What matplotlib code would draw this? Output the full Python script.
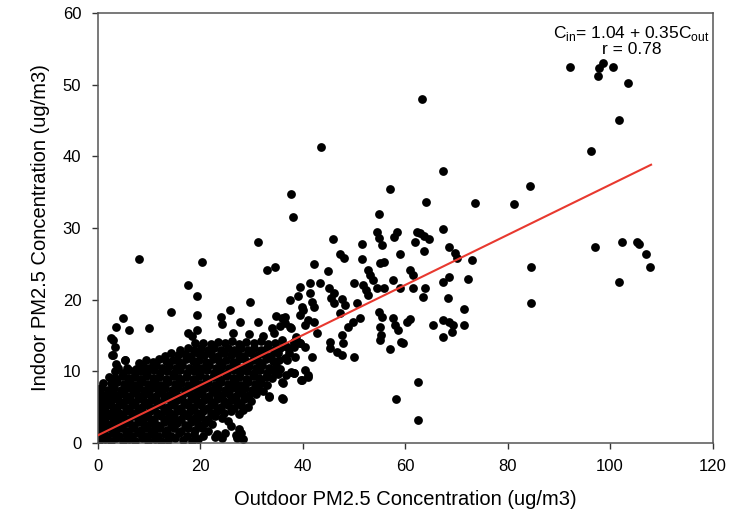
import matplotlib
matplotlib.use("Agg")
import matplotlib.pyplot as plt
import numpy as np

plt.rcParams['font.family'] = ['Liberation Sans', 'DejaVu Sans']
plt.rcParams['mathtext.fontset'] = 'custom'
plt.rcParams['mathtext.rm'] = 'Liberation Sans'

# ---- data (outdoor, indoor) pairs ----
# dense low-concentration cluster
blob = [
    (0.2,0.3),(1.3,0.5),(2.5,0.2),(3.6,0.6),(4.8,0.3),(6.0,0.5),(7.3,0.2),(8.5,0.6),(9.8,0.3),(11.1,0.5),
    (12.3,0.2),(13.6,0.4),(15.0,0.6),(16.7,0.4),(18.3,0.3),(19.6,0.5),(22.8,0.8),(24.2,0.6),(27.2,0.7),(28.3,0.5),
    (0.4,1.2),(1.7,1.0),(3.0,1.3),(4.2,1.0),(5.5,1.2),(6.7,0.9),(7.9,1.3),(9.1,1.0),(10.4,1.2),(11.7,0.9),
    (13.0,1.2),(14.3,1.0),(15.8,1.3),(17.4,1.0),(18.8,1.2),(20.5,1.0),(23.3,1.2),(24.8,1.3),(27.0,1.1),(28.0,1.3),
    (0.2,2.0),(1.2,1.8),(2.4,2.1),(3.5,1.8),(4.7,2.0),(5.9,1.7),(7.1,2.1),(8.4,1.8),(9.6,2.0),(10.9,1.8),
    (12.2,2.1),(13.5,1.8),(14.9,2.0),(16.2,1.7),(17.6,2.1),(19.0,1.8),(20.3,2.0),(21.4,1.7),(27.6,1.9),
    (0.5,2.8),(1.8,2.6),(3.0,2.9),(4.2,2.6),(5.4,2.8),(6.6,2.5),(7.8,2.9),(9.0,2.6),(10.3,2.8),(11.6,2.5),
    (12.9,2.9),(14.2,2.6),(15.5,2.8),(16.9,2.5),(18.2,2.9),(19.6,2.6),(20.9,2.8),(22.3,2.6),(26.0,2.4),
    (0.2,3.6),(1.3,3.4),(2.5,3.7),(3.7,3.4),(4.9,3.6),(6.1,3.3),(7.3,3.7),(8.5,3.4),(9.7,3.6),(11.0,3.3),
    (12.3,3.7),(13.6,3.4),(14.9,3.6),(16.2,3.3),(17.5,3.7),(18.9,3.4),(20.2,3.6),(21.5,3.3),(22.8,3.7),(24.3,3.4),(25.3,3.1),
    (0.5,4.4),(1.8,4.2),(3.0,4.5),(4.2,4.2),(5.4,4.4),(6.6,4.1),(7.8,4.5),(9.0,4.2),(10.2,4.4),(11.5,4.1),
    (12.8,4.5),(14.1,4.2),(15.4,4.4),(16.7,4.1),(18.0,4.5),(19.3,4.2),(20.6,4.4),(22.0,4.1),(23.3,4.5),(24.6,4.2),
    (26.0,4.4),(27.5,4.0),(28.4,4.6),
    (0.2,5.2),(1.3,5.0),(2.5,5.3),(3.7,5.0),(4.9,5.2),(6.1,4.9),(7.3,5.3),(8.5,5.0),(9.7,5.2),(11.0,4.9),
    (12.3,5.3),(13.6,5.0),(14.9,5.2),(16.2,4.9),(17.5,5.3),(18.8,5.0),(20.1,5.2),(21.4,4.9),(22.7,5.3),(24.0,5.0),
    (25.3,5.2),(26.6,4.9),(27.9,5.3),(29.2,5.0),
    (0.6,6.0),(1.8,5.8),(3.0,6.1),(4.2,5.8),(5.4,6.0),(6.6,5.7),(7.8,6.1),(9.0,5.8),(10.3,6.0),(11.6,5.7),
    (12.9,6.1),(14.2,5.8),(15.5,6.0),(16.8,5.7),(18.1,6.1),(19.4,5.8),(20.7,6.0),(22.0,5.7),(23.3,6.1),(24.6,5.8),
    (25.9,6.0),(27.2,5.7),(28.5,6.1),(29.8,5.8),
    (0.4,6.8),(1.5,6.6),(2.7,6.9),(3.9,6.6),(5.1,6.8),(6.3,6.5),(7.5,6.9),(8.7,6.6),(10.0,6.8),(11.3,6.5),
    (12.6,6.9),(13.9,6.6),(15.2,6.8),(16.5,6.5),(17.8,6.9),(19.1,6.6),(20.4,6.8),(21.7,6.5),(23.0,6.9),(24.3,6.6),
    (25.6,6.8),(26.9,6.5),(28.2,6.9),(29.5,6.6),(30.8,6.8),(33.4,6.4),(36.0,6.3),
    (0.6,7.6),(2.0,7.4),(3.2,7.7),(4.4,7.4),(5.6,7.6),(6.8,7.3),(8.0,7.7),(9.2,7.4),(10.5,7.6),(11.8,7.3),
    (13.1,7.7),(14.4,7.4),(15.7,7.6),(17.0,7.3),(18.3,7.7),(19.6,7.4),(20.9,7.6),(22.2,7.3),(23.5,7.7),(24.8,7.4),
    (26.1,7.6),(27.4,7.3),(28.7,7.7),(30.0,7.4),(31.3,7.6),(32.3,7.2),
    (1.0,8.4),(2.6,8.3),(3.8,8.5),(5.0,8.2),(6.2,8.4),(7.4,8.1),(8.6,8.5),(9.8,8.2),(11.1,8.4),(12.4,8.1),
    (13.7,8.5),(15.0,8.2),(16.3,8.4),(17.6,8.1),(18.9,8.5),(20.2,8.2),(21.5,8.4),(22.8,8.1),(24.1,8.5),(25.4,8.2),
    (26.7,8.4),(28.0,8.1),(29.3,8.5),(30.6,8.2),(31.9,8.4),(33.0,8.0),(36.0,8.5),
    (2.2,9.2),(3.4,9.0),(4.6,9.3),(5.8,9.0),(7.0,9.2),(8.2,8.9),(9.4,9.3),(10.7,9.0),(12.0,9.2),(13.3,8.9),
    (14.6,9.3),(15.9,9.0),(17.2,9.2),(18.5,8.9),(19.8,9.3),(21.1,9.0),(22.4,9.2),(23.7,8.9),(25.0,9.3),(26.3,9.0),
    (27.6,9.2),(28.9,8.9),(30.2,9.3),(31.5,9.0),(32.8,9.2),(34.0,9.0),(36.8,9.4),(39.6,8.8),(41.0,9.2),
    (3.4,10.0),(4.8,9.8),(6.0,10.1),(7.2,9.8),(8.4,10.0),(9.6,9.7),(10.9,10.1),(12.2,9.8),(13.5,10.0),(14.8,9.7),
    (16.1,10.1),(17.4,9.8),(18.7,10.0),(20.0,9.7),(21.3,10.1),(22.6,9.8),(23.9,10.0),(25.2,9.7),(26.5,10.1),(27.8,9.8),
    (29.1,10.0),(30.4,9.7),(31.7,10.1),(33.0,9.8),(34.3,10.0),(35.2,9.6),(37.7,9.9),(38.2,9.8),
    (4.0,10.5),(5.6,10.4),(7.5,10.3),(8.8,10.7),(10.0,10.5),(11.3,10.8),(12.6,10.5),(13.9,10.7),(15.2,10.4),(16.5,10.8),
    (17.8,10.5),(19.1,10.7),(20.4,10.4),(21.7,10.8),(23.0,10.5),(24.3,10.7),(25.6,10.4),(26.9,10.8),(28.2,10.5),(29.5,10.7),
    (30.8,10.4),(32.1,10.8),(33.4,10.5),(34.7,10.7),(35.6,10.3),(40.5,10.1),(41.1,9.4),(39.8,8.7),
    (3.6,11.0),(5.3,11.6),(8.0,11.2),(9.4,11.6),(10.7,11.3),(12.0,11.7),(13.3,11.4),(14.6,11.6),(15.9,11.3),(17.2,11.7),
    (18.5,11.4),(19.8,11.6),(21.1,11.3),(22.4,11.7),(23.7,11.4),(25.0,11.6),(26.3,11.3),(27.6,11.7),(28.9,11.4),(30.2,11.6),
    (31.5,11.3),(32.8,11.7),(34.1,11.4),(35.4,11.6),(36.6,11.8),(36.9,11.5),(38.5,12.0),(41.8,12.0),
    (2.9,12.3),(13.0,12.1),(14.3,12.5),(15.6,12.2),(16.9,12.4),(18.2,12.1),(19.5,12.5),(20.8,12.2),(22.1,12.4),(23.4,12.1),
    (24.7,12.5),(26.0,12.2),(27.3,12.4),(28.6,12.1),(29.9,12.5),(31.2,12.2),(32.5,12.4),(33.8,12.1),(35.1,12.5),(37.3,12.5),
    (3.3,13.4),(16.0,13.0),(17.5,13.3),(18.8,13.0),(20.1,13.2),(21.4,12.9),(22.7,13.3),(24.0,13.0),(25.3,13.2),(26.6,12.9),
    (27.9,13.3),(29.2,13.0),(30.5,13.2),(31.8,12.9),(33.1,13.3),(34.4,13.0),(35.6,13.2),(36.9,13.4),(38.2,13.4),
    (2.9,14.4),(19.0,13.9),(20.5,14.0),(22.0,13.8),(23.5,14.1),(24.8,13.9),(26.2,14.2),(27.6,13.8),(29.0,14.1),(30.4,13.9),
    (31.8,14.2),(33.2,13.8),(34.6,14.0),(36.0,14.3),(38.2,14.1),(39.5,13.9),(40.5,13.4),(32.2,14.9),
]

# scattered low / mid points
scatter_low = [
    (0.6,7.6),(2.6,14.6),(2.8,12.2),(3.5,16.1),(4.9,17.4),(6.1,15.8),(9.9,16.0),(5.3,11.6),
    (8.1,25.7),(14.2,18.3),(17.6,22.1),(19.3,20.5),(19.4,17.9),(19.3,15.7),(17.5,15.3),(18.4,14.9),
    (20.4,25.2),(24.1,17.5),(24.3,16.6),(25.7,18.6),(26.3,15.3),(27.8,16.8),(29.6,19.7),(29.5,15.2),
    (31.2,16.9),(34.7,17.7),(36.0,17.4),(34.0,16.0),(34.4,15.3),(35.6,16.3),(36.6,16.7),(37.7,16.0),
    (38.7,14.8),(31.2,28.1),(33.1,24.2),(34.6,24.6),(33.3,6.5),(36.2,6.1),
]

# mid-range cluster (40-75)
scatter_mid = [
    (37.5,20.0),(39.1,20.5),(39.5,21.7),(41.4,22.3),(43.4,22.3),(41.4,20.9),(41.8,19.7),(39.8,19.0),
    (40.1,18.6),(42.1,19.0),(39.5,17.9),(42.1,16.9),(42.7,15.3),(40.5,16.5),(41.1,17.2),(37.5,16.2),
    (36.5,17.6),(39.5,13.9),(38.2,14.1),(36.9,13.4),(36.2,8.4),(38.2,9.8),
    (42.1,25.0),(45.0,24.0),(45.8,28.4),(47.3,26.3),(48.1,25.8),(45.2,21.6),(46.0,20.9),(45.5,20.2),
    (47.6,20.1),(48.3,19.3),(47.3,18.1),(46.0,19.5),(48.9,16.2),(47.6,15.0),(47.8,13.9),(45.3,14.1),
    (45.3,13.3),(46.6,12.7),(47.6,12.2),(50.0,12.0),(49.8,16.9),(51.2,17.4),(50.6,19.5),
    (50.0,22.3),(51.8,22.0),(52.4,21.3),(52.8,20.6),(51.5,27.7),(51.5,25.6),(52.8,24.2),(53.2,23.4),
    (53.7,22.7),(54.5,29.5),(54.8,28.6),(55.4,27.6),(55.1,25.1),(55.8,25.2),(54.5,21.6),(55.8,21.6),
    (54.8,18.2),(55.4,17.6),(55.1,16.2),(55.2,15.0),(55.1,14.3),(57.1,13.1),(57.7,17.4),(58.0,16.5),
    (58.5,15.7),(59.2,14.1),(59.5,13.9),(60.3,16.9),(61.0,17.3),(57.7,22.8),(59.0,21.6),(61.6,21.6),
    (58.4,29.5),(57.9,28.8),(58.9,26.3),(62.0,28.0),(62.3,29.5),(61.0,24.2),(61.6,23.4),
    (62.9,29.3),(63.6,28.9),(64.6,28.4),(67.3,29.9),(63.7,26.8),(68.5,27.3),(69.8,26.5),(70.1,25.8),
    (68.5,23.2),(67.4,22.5),(72.2,22.9),(63.9,21.6),(63.5,20.4),(68.3,20.2),(71.4,18.7),(71.4,16.5),
    (65.4,16.5),(67.4,17.2),(68.5,16.8),(69.3,16.5),(69.1,15.5),(67.4,14.8),(73.0,25.5),
    (54.8,32.0),(57.0,35.5),(64.0,33.6),(73.7,33.5),(67.4,37.9),(37.6,34.8),(38.1,31.6),(43.5,41.3),
    (63.2,48.0),(62.4,8.5),(58.1,6.1),(62.4,3.2),
]

# high-concentration points
scatter_high = [
    (81.3,33.3),(84.4,35.8),(84.6,24.5),(84.6,19.5),(92.1,52.5),(97.7,51.2),(97.9,52.3),(98.7,53.1),
    (100.6,52.5),(103.4,50.3),(101.7,45.1),(96.3,40.8),(97.0,27.3),(102.3,28.0),(105.3,28.0),(105.7,27.8),
    (107.1,26.4),(107.7,24.6),(101.8,22.4),
]

intercept = 1.04
slope = 0.35
fit_range = [0.0, 108.0]

x_ticks = [0, 20, 40, 60, 80, 100, 120]
y_ticks = [0, 10, 20, 30, 40, 50, 60]

# ---- figure ----
pts = np.array(blob + scatter_low + scatter_mid + scatter_high)

fig = plt.figure(figsize=(7.49, 5.17), dpi=100)
ax = fig.add_axes([0.1308, 0.1437, 0.8205, 0.8306])

ax.scatter(pts[:, 0], pts[:, 1], s=40, c='black', linewidths=0, zorder=2)

fx = np.array(fit_range)
ax.plot(fx, intercept + slope * fx, color='#e8392f', lw=1.5, zorder=3)

ax.set_xlim(0, 120)
ax.set_ylim(0, 60)
ax.set_xticks(x_ticks)
ax.set_yticks(y_ticks)
ax.tick_params(axis='both', direction='out', length=4, width=1, labelsize=12,
               colors='#333333', labelcolor='black', pad=8)
ax.tick_params(top=False, right=False)
for sp in ax.spines.values():
    sp.set_color('#555555')
    sp.set_linewidth(1.1)

ax.set_xlabel('Outdoor PM2.5 Concentration (ug/m3)', fontsize=14.5, labelpad=11)
ax.set_ylabel('Indoor PM2.5 Concentration (ug/m3)', fontsize=14.5, labelpad=9)

ax.text(0.868, 0.975,
        r'C$_{\mathregular{in}}$= 1.04 + 0.35C$_{\mathregular{out}}$' + '\n' + 'r = 0.78',
        transform=ax.transAxes, ha='center', va='top', fontsize=12.5,
        linespacing=0.95, multialignment='center')

fig.savefig('out.png', dpi=100)
